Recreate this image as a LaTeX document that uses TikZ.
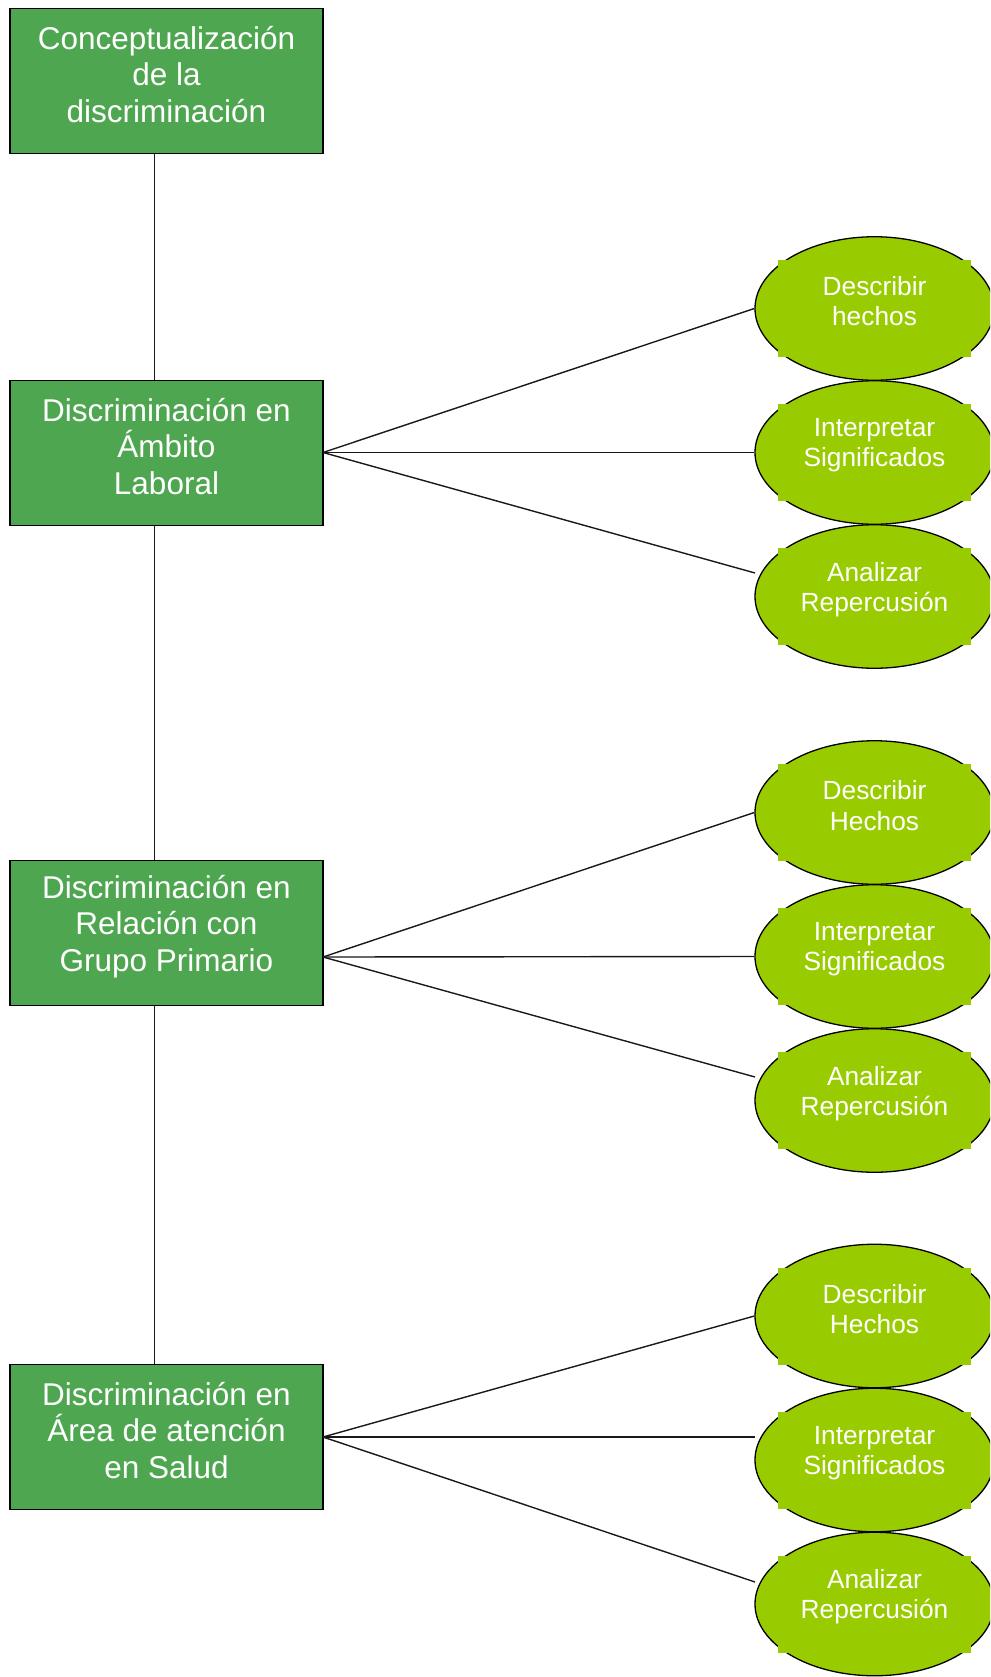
\documentclass[tikz,border=0pt]{standalone}
\usepackage{fontspec}
\setmainfont{Liberation Sans}
\usetikzlibrary{shapes.geometric,calc}
\definecolor{boxgreen}{RGB}{78,167,80}
\definecolor{ovallime}{RGB}{153,204,0}
\definecolor{wire}{RGB}{25,25,25}
\tikzset{
  topicbox/.style={draw=black, line width=1.6pt, fill=boxgreen, minimum width=313pt,
    minimum height=145pt, inner sep=0pt},
  topictext/.style={text=white, align=center, inner sep=0pt,
    font=\fontsize{31.5}{36.8}\selectfont},
  oval/.style={ellipse, draw=black, line width=1.3pt, fill=ovallime, minimum width=239pt,
    minimum height=143.5pt, inner sep=0pt},
  ovaltext/.style={text=white, align=center, inner sep=0pt,
    font=\fontsize{26.3}{30.2}\selectfont},
  link/.style={draw=wire, line width=1.4pt}
}
% one oval: name, centre y, label
\newcommand{\ovalnode}[3]{%
  \node[oval] (#1) at (874.5,#2) {};
  \fill[ovallime] ($(#1)+(-96.5,-48.5)$) rectangle ($(#1)+(96.5,48.5)$);
  \node[ovaltext] at ($(#1)+(0,-7)$) {#3};
}
\begin{document}
\begin{tikzpicture}[x=1pt, y=-1pt]
\useasboundingbox (0,0) rectangle (990,1677);
\clip (0,0) rectangle (990,1677);

% main column of topics
\node[topicbox] (b1) at (166.5,81) {};
\node[topicbox] (b2) at (166.5,453) {};
\node[topicbox] (b3) at (166.5,933) {};
\node[topicbox] (b4) at (166.5,1437) {};
\node[topictext] at ($(b1)+(0,-6.5)$) {Conceptualización\\de la\\discriminación};
\node[topictext] at ($(b2)+(0,-6.5)$) {Discriminación en\\Ámbito\\Laboral};
\node[topictext] at ($(b3)+(0,-6.5)$) {Discriminación en\\Relación con\\Grupo Primario};
\node[topictext] at ($(b4)+(0,-6.5)$) {Discriminación en\\Área de atención\\en Salud};

% spine joining the topics
\coordinate (spine) at (154.5,0);
\draw[link] (spine |- b1.south) -- (spine |- b2.north);
\draw[link] (spine |- b2.south) -- (spine |- b3.north);
\draw[link] (spine |- b3.south) -- (spine |- b4.north);

% ovals
\ovalnode{e11}{308.5}{Describir\\hechos}
\ovalnode{e12}{452.5}{Interpretar\\Significados}
\ovalnode{e13}{596.5}{Analizar\\Repercusión}
\ovalnode{e21}{812.5}{Describir\\Hechos}
\ovalnode{e22}{956.5}{Interpretar\\Significados}
\ovalnode{e23}{1100.5}{Analizar\\Repercusión}
\ovalnode{e31}{1316}{Describir\\Hechos}
\ovalnode{e32}{1460}{Interpretar\\Significados}
\ovalnode{e33}{1604}{Analizar\\Repercusión}

% fan-out points
\coordinate (o2) at (323,452.5);
\coordinate (o3) at (323,957);
\coordinate (o4) at (323,1437);
\coordinate (t13) at (755,573);
\coordinate (t23) at (755,1077);
\coordinate (t32) at (755,1437);
\coordinate (t33) at (755,1582);

\draw[link] (o2) -- (e11.west);
\draw[link] (o2) -- (e12.west);
\draw[link] (o2) -- (t13);
\draw[link] (o3) -- (e21.west);
\draw[link] (o3) -- (e22.west);
\draw[link] (o3) -- (t23);
\draw[link] (o4) -- (e31.west);
\draw[link] (o4) -- (t32);
\draw[link] (o4) -- (t33);
\end{tikzpicture}
\end{document}
